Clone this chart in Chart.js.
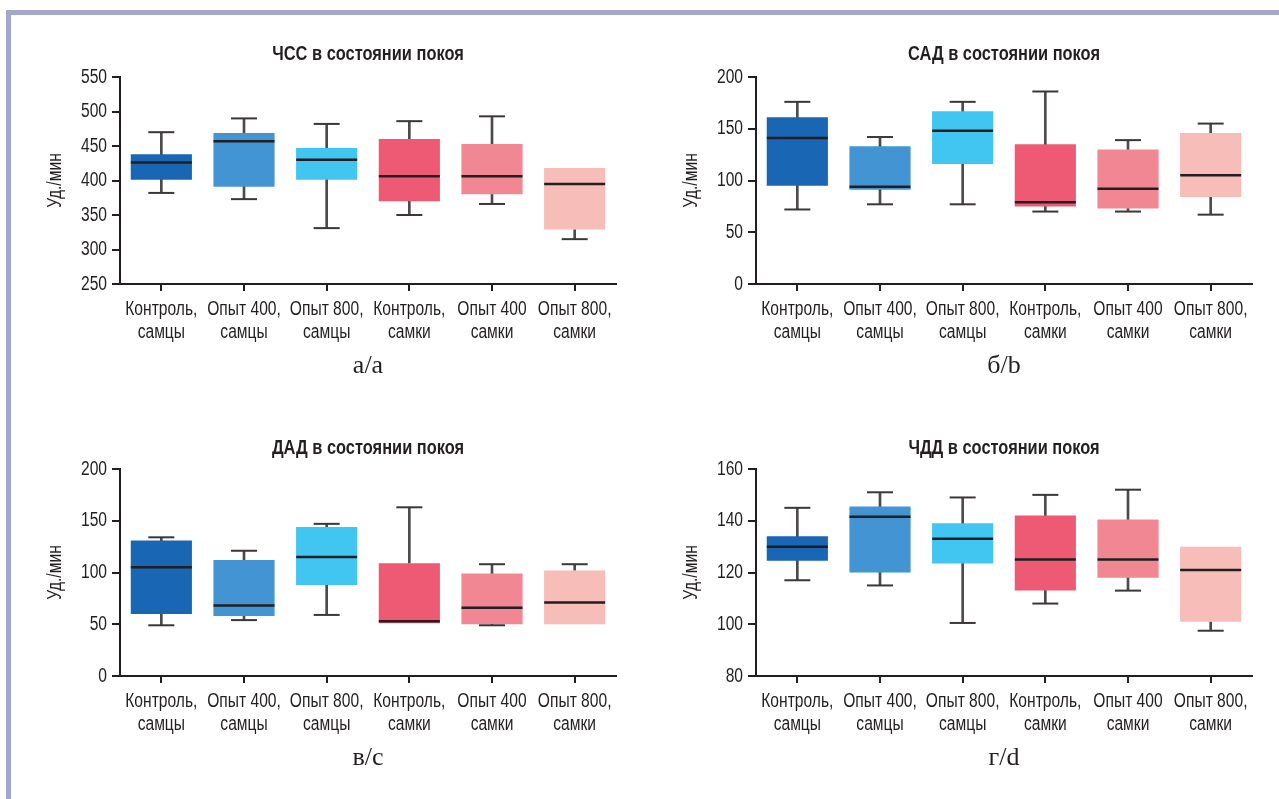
<!DOCTYPE html>
<html lang="ru">
<head>
<meta charset="utf-8">
<title>Показатели в состоянии покоя</title>
<script src="https://cdn.jsdelivr.net/npm/chart.js@4.4.1/dist/chart.umd.min.js"></script>
<style>
    html, body { margin: 0; padding: 0; background: #fff; }
    body { width: 1279px; height: 799px; position: relative; overflow: hidden; }
    .frame-top { position: absolute; left: 6px; top: 10px; right: 0; height: 5px; background: #a4a6cd; }
    .frame-left { position: absolute; left: 6px; top: 10px; bottom: 0; width: 5px; background: #a4a6cd; }
    canvas { position: absolute; }
</style>
</head>
<body>
<div class="frame-top"></div>
<div class="frame-left"></div>
<canvas id="hrChart" width="640" height="400" style="left:0;top:0"></canvas>
<canvas id="sbpChart" width="640" height="400" style="left:636px;top:0"></canvas>
<canvas id="dbpChart" width="640" height="400" style="left:0;top:392px"></canvas>
<canvas id="rrChart" width="640" height="400" style="left:636px;top:392px"></canvas>
<script>
const Chart = window.Chart

// Groups on the x axis (two-line labels)
const categories = [
    ["Контроль,", "самцы"],
    ["Опыт 400,", "самцы"],
    ["Опыт 800,", "самцы"],
    ["Контроль,", "самки"],
    ["Опыт 400", "самки"],
    ["Опыт 800,", "самки"],
]

// ЧСС (heart rate): whisker low, Q1, median, Q3, whisker high
const hrLow = [382, 373, 331, 350, 366, 315]
const hrQ1 = [401, 391, 401, 370, 380, 329]
const hrMed = [426, 457, 430, 406, 406, 395]
const hrQ3 = [438, 469, 447, 460, 453, 418]
const hrHigh = [470, 490, 482, 486, 493, null]
const hrTicks = [250, 550, 50]

// САД (systolic pressure)
const sbpLow = [72, 77, 77, 70, 70, 67]
const sbpQ1 = [95, 91, 116, 75, 73, 84]
const sbpMed = [141, 94, 148, 79, 92, 105]
const sbpQ3 = [161, 133, 167, 135, 130, 146]
const sbpHigh = [176, 142, 176, 186, 139, 155]
const sbpTicks = [0, 200, 50]

// ДАД (diastolic pressure)
const dbpLow = [49, 54, 59, null, 49, null]
const dbpQ1 = [60, 58, 88, 51, 50, 50]
const dbpMed = [105, 68, 115, 53, 66, 71]
const dbpQ3 = [131, 112, 144, 109, 99, 102]
const dbpHigh = [134, 121, 147, 163, 108, 108]
const dbpTicks = [0, 200, 50]

// ЧДД (respiratory rate)
const rrLow = [117, 115, 100.5, 108, 113, 97.5]
const rrQ1 = [124.5, 120, 123.5, 113, 118, 101]
const rrMed = [130, 141.5, 133, 125, 125, 121]
const rrQ3 = [134, 145.5, 139, 142, 140.5, 130]
const rrHigh = [145, 151, 149, 150, 152, null]
const rrTicks = [80, 160, 20]

const boxColors = ["#1866b4", "#4394d2", "#40c6f1", "#ee5a73", "#f28794", "#f7bdb8"]
const ink = "#231f20"
const sans = "'Liberation Sans', Arial, sans-serif"
const serif = "'Liberation Serif', 'DejaVu Serif', serif"

// no condensed face installed: squeeze sans text around its anchor instead
const condenseText = {
    id: "condenseText",
    beforeDraw(chart) {
        const ctx = chart.ctx
        const fill = CanvasRenderingContext2D.prototype.fillText
        ctx.fillText = function (text, x, y, maxWidth) {
            if (this.font.includes("Serif")) {
                return fill.call(this, text, x, y, maxWidth)
            }
            const squeeze = this.font.includes("bold") ? 0.82 : 0.78
            this.save()
            this.translate(x, y)
            this.scale(squeeze, 1)
            fill.call(this, text, 0, 0)
            this.restore()
        }
    },
    afterDraw(chart) {
        delete chart.ctx.fillText
    },
}

document.addEventListener("DOMContentLoaded", () => {
    buildBoxPanel("hrChart", "ЧСС в состоянии покоя", "а/a", hrTicks, hrLow, hrQ1, hrMed, hrQ3, hrHigh, 42)
    buildBoxPanel("sbpChart", "САД в состоянии покоя", "б/b", sbpTicks, sbpLow, sbpQ1, sbpMed, sbpQ3, sbpHigh, 42)
    buildBoxPanel("dbpChart", "ДАД в состоянии покоя", "в/c", dbpTicks, dbpLow, dbpQ1, dbpMed, dbpQ3, dbpHigh, 44)
    buildBoxPanel("rrChart", "ЧДД в состоянии покоя", "г/d", rrTicks, rrLow, rrQ1, rrMed, rrQ3, rrHigh, 44)
})

function buildBoxPanel(id, title, caption, ticks, low, q1, med, q3, high, titleTop) {
    const ctx = document.getElementById(id)
    const [yMin, yMax, yStep] = ticks

    return new Chart(ctx.getContext("2d"), {
        type: "bar",
        plugins: [condenseText],
        data: {
            labels: categories,
            datasets: [
                // median line
                {
                    type: "line",
                    label: "Медиана",
                    data: med,
                    showLine: false,
                    pointStyle: "line",
                    pointRadius: 30.5,
                    pointBorderWidth: 2.5,
                    pointBorderColor: ink,
                    order: 0,
                },
                // whisker caps
                {
                    type: "line",
                    label: "Максимум",
                    data: high,
                    showLine: false,
                    pointStyle: "line",
                    pointRadius: 13,
                    pointBorderWidth: 2,
                    pointBorderColor: "#3b3738",
                    order: 1,
                },
                {
                    type: "line",
                    label: "Минимум",
                    data: low,
                    showLine: false,
                    pointStyle: "line",
                    pointRadius: 13,
                    pointBorderWidth: 2,
                    pointBorderColor: "#3b3738",
                    order: 1,
                },
                // box Q1..Q3
                {
                    label: "Q1–Q3",
                    data: q1.map((v, i) => [v, q3[i]]),
                    backgroundColor: boxColors,
                    barPercentage: 0.74,
                    categoryPercentage: 1,
                    grouped: false,
                    order: 2,
                },
                // whisker stem (a missing end stops inside the box)
                {
                    label: "Размах",
                    data: q1.map((v, i) => [low[i] ?? q3[i], high[i] ?? v]),
                    backgroundColor: "#4e4a4b",
                    barThickness: 2,
                    grouped: false,
                    order: 3,
                },
            ],
        },
        options: {
            responsive: false,
            animation: false,
            events: [],
            devicePixelRatio: 1,
            layout: {
                autoPadding: false,
                padding: { left: 0, right: 24, top: 0, bottom: 0 },
            },
            plugins: {
                legend: { display: false },
                tooltip: { enabled: false },
                title: {
                    display: true,
                    text: title,
                    fullSize: false,
                    color: ink,
                    font: { family: sans, size: 20, weight: "bold", lineHeight: 1.2 },
                    padding: { top: titleTop, bottom: 77 - 24 - titleTop },
                },
            },
            scales: {
                x: {
                    offset: true,
                    grid: {
                        offset: false,
                        drawOnChartArea: false,
                        tickLength: 7,
                        color: ink,
                        lineWidth: 2,
                    },
                    border: { color: ink, width: 2 },
                    ticks: {
                        color: ink,
                        font: { family: sans, size: 20, lineHeight: 1.15 },
                        padding: 7,
                        maxRotation: 0,
                        autoSkip: false,
                    },
                    title: {
                        display: true,
                        text: caption,
                        color: ink,
                        font: { family: serif, size: 26, lineHeight: 1.2 },
                        padding: { top: 0, bottom: 18 },
                    },
                    afterFit: (scale) => {
                        scale.height = 116
                        scale.paddingLeft = 0
                        scale.paddingRight = 0
                    },
                },
                y: {
                    min: yMin,
                    max: yMax,
                    grid: {
                        drawOnChartArea: false,
                        tickLength: 8,
                        color: ink,
                        lineWidth: 2,
                    },
                    border: { color: ink, width: 2 },
                    ticks: {
                        stepSize: yStep,
                        color: ink,
                        font: { family: sans, size: 20 },
                        padding: 5,
                    },
                    title: {
                        display: true,
                        text: "Уд./мин",
                        color: ink,
                        font: { family: sans, size: 20, lineHeight: 1.2 },
                        padding: { top: 43, bottom: 0 },
                    },
                    afterFit: (scale) => {
                        scale.width = 120
                    },
                },
            },
        },
    })
}
</script>
</body>
</html>
